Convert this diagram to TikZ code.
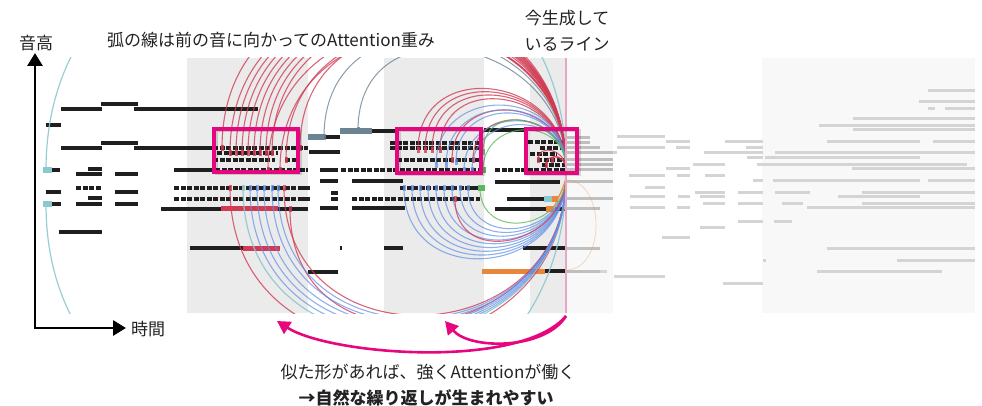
\documentclass[tikz,border=0pt]{standalone}
\usepackage{fontspec}
\setmainfont{Noto Sans CJK JP}
\usetikzlibrary{arrows.meta}
\definecolor{mag}{HTML}{E6067E}
\definecolor{pinkline}{HTML}{E8A5C5}
\definecolor{band}{HTML}{EBEBEB}
\definecolor{faint}{HTML}{F8F8F8}
\definecolor{arcred}{HTML}{D03A52}
\definecolor{arcblue}{HTML}{5F8FE6}
\definecolor{arcgreen}{HTML}{5DB760}
\definecolor{arccyan}{HTML}{8CC9CF}
\definecolor{grayblue}{HTML}{6B8393}
\definecolor{arcorange}{HTML}{E8873A}
\definecolor{txt}{HTML}{222222}
\newcommand\ArcsUp[2]{\foreach \tx/\ty in {#2}{\draw[#1] (\tx,\ty) .. controls (\tx,{\ty-0.63*(566-\tx)}) and (566,{168-0.63*(566-\tx)}) .. (566,168); \fill[#1] (\tx-1.5,\ty-3) rectangle (\tx+1.5,\ty+3);}}
\newcommand\ArcsDown[2]{\foreach \tx/\ty in {#2}{\draw[#1] (\tx,\ty) .. controls (\tx,{\ty+0.63*(566-\tx)}) and (566,{176+0.63*(566-\tx)}) .. (566,176); \fill[#1] (\tx-1.5,\ty-3) rectangle (\tx+1.5,\ty+3);}}
\begin{document}
\begin{tikzpicture}[x=1pt,y=-1pt,
  note/.style={line width=3.2pt, black!88},
  dnote/.style={note, dash pattern=on 5pt off 1.5pt},
  fnote/.style={line width=3pt, black!17},
  cnote/.style={line width=3pt, black!25},
  redarc/.style={color=arcred, line width=1.1pt, opacity=0.78},
  bluearc/.style={color=arcblue, line width=1.1pt, opacity=0.7},
  greenarc/.style={color=arcgreen, line width=1pt, opacity=0.8},
  cyanarc/.style={color=arccyan, line width=1.2pt, opacity=0.9},
  grayarc/.style={color=grayblue, line width=1pt, opacity=0.8},
  orangearc/.style={color=arcorange, line width=1pt, opacity=0.8},
  hibox/.style={draw=mag, line width=3.4pt},
  axis/.style={line width=2.8pt, black, line join=miter},
  magarrow/.style={draw=mag, line width=2.6pt, -{Triangle[length=13pt,width=14pt]}},
  lbl/.style={text=txt, font=\fontsize{17}{21}\selectfont, inner sep=0pt},
  blbl/.style={lbl, font=\fontsize{17}{21}\selectfont\bfseries}]
\useasboundingbox (0,0) rectangle (982,406);
% bands
\fill[band] (187,58) rectangle (308,313);
\fill[band] (384,58) rectangle (484,313);
\fill[band] (530,58) rectangle (566,313);
\fill[faint] (566,58) rectangle (613,313);
\fill[faint] (762,58) rectangle (975,313);
% future notes
\foreach \a/\b/\y in {928/975/91,919/975/102,928/935/109,945/975/109,853/975/119,819/975/126,853/975/130,
617/665/137,666/690/142,725/763/142,827/920/142,933/975/142,617/665/148,676/690/148,746/763/148,
592/617/153,704/763/153,775/975/153,747/763/158,765/920/158,693/725/165,757/967/165,666/690/169,852/975/169,
629/665/176,677/690/176,705/725/176,753/763/181,773/920/181,928/975/181,645/665/188,
695/725/193,738/763/193,775/810/193,862/975/193,630/665/197,678/690/197,700/725/197,838/920/197,
703/725/204,738/763/204,782/803/204,862/975/204,630/665/208,677/690/208,807/975/208,
738/763/221,774/792/221,700/725/227,662/690/237,827/975/248,763/766/260,897/975/260,
580/607/271,817/942/271,614/665/276,723/763/283}
  \draw[fnote] (\a,\y) -- (\b,\y);
\foreach \a/\b/\y in {566/590/138,566/590/143,566/600/148,566/613/153,566/613/160,566/613/165,566/613/170,
566/613/182,566/613/199,566/600/209,566/600/248,566/600/271}
  \draw[cnote] (\a,\y) -- (\b,\y);
% black notes
\foreach \a/\b/\y in {61/102/109,101/138/104,134/258/109,46/61/125,61/102/148,101/138/143,134/213/148,
52/60/170,88/102/169,76/102/174,115/138/174,174/215/170,46/61/192,115/138/192,88/102/198,
52/61/204,76/102/204,115/138/204,161/221/209,278/308/209,59/102/232,190/243/248,
324/340/137,372/398/131,484/526/130,309/340/152,320/338/170,320/338/181,352/403/181,495/560/182,
300/310/188,331/338/193,331/338/199,320/338/208,352/405/208,495/548/209,555/566/209,
340/342/248,384/403/248,523/566/248,308/338/272,545/566/271,507/548/199,470/480/188,300/310/199}
  \draw[note] (\a,\y) -- (\b,\y);
\foreach \a/\b/\y in {76/102/188,174/308/188,174/308/199,213/308/148,217/278/153,213/275/160,285/300/160,
215/308/170,341/398/170,390/480/143,390/480/148,397/480/160,380/480/170,400/480/188,352/480/199,
495/566/170,528/566/142,540/566/148,530/557/154,537/566/160,542/566/165}
  \draw[dnote] (\a,\y) -- (\b,\y);
% coloured notes
\draw[arcred, line width=5pt] (221,209) -- (278,209);
\draw[arcred, line width=5pt] (243,248) -- (280,248);
\draw[grayblue, line width=6pt] (308,137) -- (324,137);
\draw[grayblue, line width=6pt] (340,131) -- (372,131);
\draw[arcorange, line width=5pt] (482,271) -- (545,271);
\fill[arccyan] (43,167) rectangle (52,173);
\fill[arccyan] (43,201) rectangle (52,207);
\fill[arcgreen] (478,185) rectangle (485,191);
\fill[arcgreen] (480,167) rectangle (486,173);
\fill[arccyan] (544,196) rectangle (552,202);
\fill[arcorange] (552,196) rectangle (558,202);
\fill[arcorange] (546,206) rectangle (554,212);
% attention arcs
\begin{scope}
\clip (45,58) rectangle (613,313);
\ArcsUp{cyanarc}{46/170}
\ArcsDown{cyanarc}{46/204}
\ArcsUp{grayarc}{324/137,358/130}
\ArcsUp{redarc}{222/148,230/153,236/153,242/153,248/153,254/153,260/153,266/153,272/153,268/170,280/170,286/160,300/148}
\ArcsDown{redarc}{230/188,284/188,290/209}
\ArcsDown{cyanarc}{243/188}
\ArcsDown{bluearc}{250/188,257/188,264/188,272/188,278/188}
\ArcsUp{redarc}{418/150,425/150,432/150,440/150,452/160,473/160}
\ArcsUp{bluearc}{436/165,446/165,456/162,464/170,472/170}
\ArcsDown{bluearc}{404/188,412/188,420/188,428/188,436/188,444/188,452/188,460/188,468/188}
\ArcsDown{redarc}{455/199}
\ArcsUp{greenarc}{483/170,483/152}
\ArcsDown{greenarc}{480/188}
\ArcsUp{redarc}{538/160,546/165,552/160}
\ArcsDown{orangearc}{548/209,555/199}
\draw[arcorange, line width=0.8pt, opacity=0.3] (566,180) .. controls (606,180) and (606,270) .. (566,270);
\end{scope}
% current line
\draw[pinkline, line width=2pt] (566,58) -- (566,313);
% highlight boxes
\foreach \x/\y/\X/\Y in {214/129/298/172,397/129/481/173,526/129/577/173}
  \draw[black, opacity=0.15, line width=3pt] (\x+2,\y+2) rectangle (\X+2,\Y+2);
\draw[hibox] (214,129) rectangle (298,172);
\draw[hibox] (397,129) rectangle (481,173);
\draw[hibox] (526,129) rectangle (577,173);
% axes
\coordinate (ytop) at (35,53);
\coordinate (orig) at (35,328);
\coordinate (xend) at (126,328);
\draw[axis, {Triangle[length=13pt,width=15pt]}-{Triangle[length=13pt,width=15pt]}] (ytop) -- (orig) -- (xend);
% labels
\node[lbl] (ylab) at (36,43) {音高};
\node[lbl] (xlab) at (148,329) {時間};
\node[lbl] (title) at (271,40) {弧の線は前の音に向かってのAttention重み};
\node[lbl] (cur1) at (567,18) {今生成して};
\node[lbl] (cur2) at (567,44) {いるライン};
\node[lbl] (note1) at (428,372) {似た形があれば、強くAttentionが働く};
\node[blbl] (note2) at (426,398) {→自然な繰り返しが生まれやすい};
% magenta arrows
\coordinate (src) at (566,316);
\coordinate (tgtA) at (277,321);
\coordinate (tgtB) at (445,321);
\draw[magarrow] (src) .. controls (520,370) and (330,355) .. (tgtA);
\draw[magarrow] (src) .. controls (545,350) and (470,350) .. (tgtB);
\end{tikzpicture}
\end{document}
